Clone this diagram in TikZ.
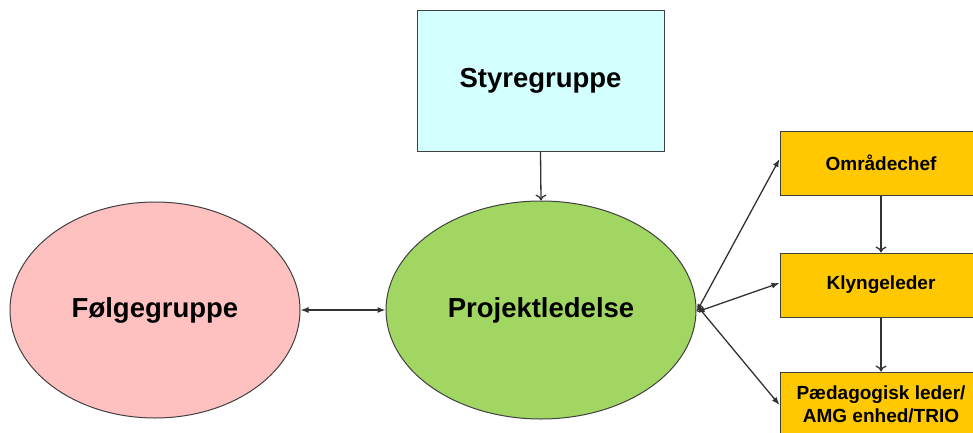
\documentclass[tikz,border=0pt]{standalone}
\usepackage{fontspec}
\setmainfont{Liberation Sans}
\usetikzlibrary{shapes.geometric,arrows.meta}
\definecolor{cyanfill}{HTML}{D4FFFF}
\definecolor{pinkfill}{HTML}{FFC0C0}
\definecolor{greenfill}{HTML}{A2D662}
\definecolor{orangefill}{HTML}{FFC800}
\definecolor{edgegray}{HTML}{404040}
\tikzset{
  bigtext/.style={font=\fontsize{27.5}{30}\selectfont\bfseries},
  smalltext/.style={font=\fontsize{19}{23}\selectfont\bfseries, align=center},
  ellnode/.style={ellipse, draw=edgegray, line width=1pt, inner sep=0pt, bigtext},
  orangebox/.style={rectangle, draw=edgegray, line width=1pt, fill=orangefill, inner sep=0pt,
    minimum width=202pt, minimum height=64pt, smalltext},
  conn/.style={draw=black!80, line width=1.3pt},
  dtip/.style={conn, {Latex[length=8pt,width=6pt]}-{Latex[length=8pt,width=6pt]}},
  vtip/.style={conn, -{To[length=6pt,width=11pt]}}
}
\begin{document}
\begin{tikzpicture}[x=1pt,y=-1pt]
\clip (0,0) rectangle (973,433);
\fill[white] (0,0) rectangle (973,433);
\node[rectangle, draw=edgegray, line width=1pt, fill=cyanfill, minimum width=247pt, minimum height=140pt, inner sep=0pt, bigtext] (sty) at (540.5,81) {Styregruppe};
\node[ellnode, fill=pinkfill, minimum width=290pt, minimum height=216pt] (fol) at (155,310) {Følgegruppe};
\node[ellnode, fill=greenfill, minimum width=310pt, minimum height=218pt] (pl) at (541,310) {Projektledelse};
\node[orangebox] (om) at (881,163) {Områdechef};
\node[orangebox] (kl) at (881,285) {Klyngeleder};
\node[orangebox] (pae) at (881,404) {Pædagogisk leder/\\AMG enhed/TRIO};
\draw[vtip] (sty.south) -- (pl.north);
\draw[vtip] (om.south) -- (kl.north);
\draw[vtip] (kl.south) -- (pae.north);
\draw[dtip] (fol.east) -- (pl.west);
\draw[dtip] ([yshift=-2pt]pl.east) -- ([yshift=4pt]om.west);
\draw[dtip] ([yshift=-2pt]pl.east) -- ([yshift=2pt]kl.west);
\draw[dtip] ([yshift=5pt]pl.east) -- ([yshift=-1pt]pae.west);
\end{tikzpicture}
\end{document}
